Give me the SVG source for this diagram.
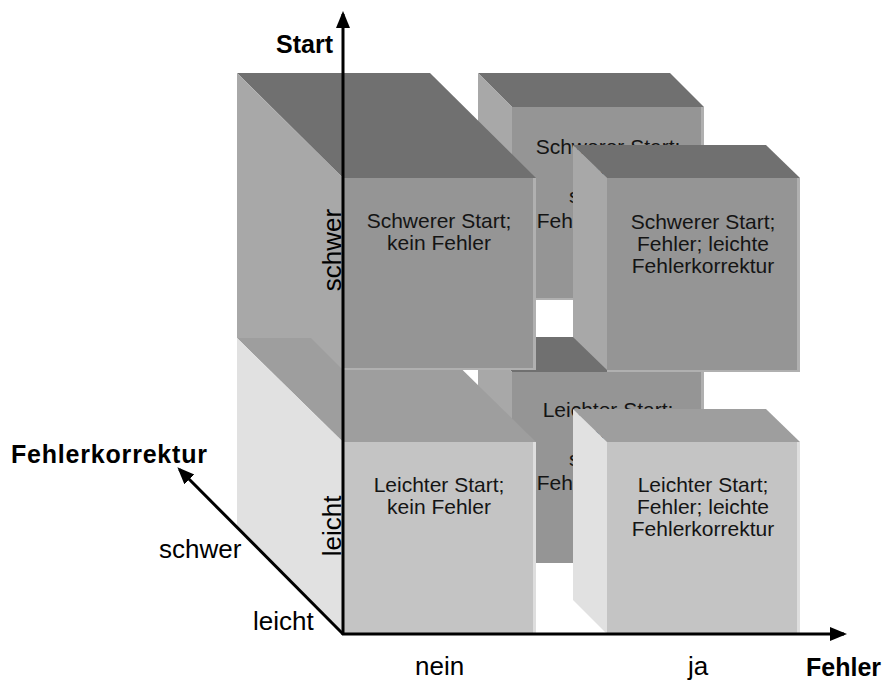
<svg xmlns="http://www.w3.org/2000/svg" width="884" height="682" viewBox="0 0 884 682">
  <style>
    .dark .top { fill: #707070; }
    .dark .side { fill: #a8a8a8; }
    .dark .front { fill: #959595; }
    .dark .edge { fill: #b0b0b0; }
    .light .top { fill: #9e9e9e; }
    .light .side { fill: #e1e1e1; }
    .light .front { fill: #c4c4c4; }
    .light .edge { fill: #dedede; }
    .cube text { font-family: "Liberation Sans", Arial, sans-serif; font-size: 21px; fill: #141414; text-anchor: middle; }
    .lbl { font-family: "Liberation Sans", Arial, sans-serif; font-size: 26px; fill: #000; }
    .axis-title { font-family: "Liberation Sans", Arial, sans-serif; font-size: 25px; font-weight: bold; fill: #000; }
    .axis { stroke: #000; stroke-width: 3; fill: none; marker-end: url(#arrow); }
  </style>
  <defs>
    <marker id="arrow" markerUnits="userSpaceOnUse" markerWidth="18" markerHeight="16" refX="14" refY="7" orient="auto">
      <path d="M0,0 L17,7 L0,14 z" fill="#000"/>
    </marker>
  </defs>
  <rect width="884" height="682" fill="#fff"/>

  <!-- back row: Fehler = ja, schwere Fehlerkorrektur -->
  <g id="cube-schwer-ja-schwer" class="cube dark">
    <polygon class="top" points="478,73 670,73 704,107 512,107"/>
    <polygon class="side" points="478,73 512,107 512,300 478,266"/>
    <rect class="front" x="512" y="107" width="192" height="193"/>
    <rect class="edge" x="701" y="107" width="3" height="193"/>
    <rect class="edge" x="512" y="298" width="192" height="2"/>
    <text x="608" y="154">Schwerer Start;</text>
    <text x="608" y="179">Fehler;</text>
    <text x="608" y="203">schwere</text>
    <text x="608" y="228">Fehlerkorrektur</text>
  </g>

  <g id="cube-leicht-ja-schwer" class="cube dark">
    <polygon class="top" points="478,337 670,337 704,372 512,372"/>
    <polygon class="side" points="478,337 512,372 512,563 478,528"/>
    <rect class="front" x="512" y="372" width="192" height="191"/>
    <rect class="edge" x="701" y="372" width="3" height="191"/>
    <text x="608" y="417">Leichter Start;</text>
    <text x="608" y="442">Fehler;</text>
    <text x="608" y="466">schwere</text>
    <text x="608" y="490">Fehlerkorrektur</text>
  </g>

  <!-- front row: Fehler = nein -->
  <g id="cube-leicht-nein" class="cube light">
    <polygon class="top" points="237,338 430,338 536,442 343,442"/>
    <polygon class="side" points="237,338 343,442 343,634 237,528"/>
    <rect class="front" x="343" y="442" width="193" height="192"/>
    <rect class="edge" x="533" y="442" width="3" height="192"/>
    <text x="439" y="492">Leichter Start;</text>
    <text x="439" y="514">kein Fehler</text>
  </g>

  <g id="cube-schwer-nein" class="cube dark">
    <polygon class="top" points="237,73 430,73 536,178 343,178"/>
    <polygon class="side" points="237,73 343,178 343,370 311,338 237,338"/>
    <rect class="front" x="343" y="178" width="193" height="192"/>
    <rect class="edge" x="533" y="178" width="3" height="192"/>
    <rect class="edge" x="343" y="368" width="193" height="2"/>
    <text x="439" y="228">Schwerer Start;</text>
    <text x="439" y="250">kein Fehler</text>
  </g>

  <!-- front row: Fehler = ja, leichte Fehlerkorrektur -->
  <g id="cube-leicht-ja-leicht" class="cube light">
    <polygon class="top" points="573,409 766,409 800,442 607,442"/>
    <polygon class="side" points="573,409 607,442 607,634 573,600"/>
    <rect class="front" x="607" y="442" width="193" height="192"/>
    <rect class="edge" x="797" y="442" width="3" height="192"/>
    <text x="703" y="492">Leichter Start;</text>
    <text x="703" y="514">Fehler; leichte</text>
    <text x="703" y="536">Fehlerkorrektur</text>
  </g>

  <g id="cube-schwer-ja-leicht" class="cube dark">
    <polygon class="top" points="573,145 766,145 800,178 607,178"/>
    <polygon class="side" points="573,145 607,178 607,370 573,337"/>
    <rect class="front" x="607" y="178" width="193" height="192"/>
    <rect class="edge" x="797" y="178" width="3" height="194"/>
    <rect class="edge" x="607" y="370" width="193" height="2"/>
    <text x="703" y="229">Schwerer Start;</text>
    <text x="703" y="251">Fehler; leichte</text>
    <text x="703" y="273">Fehlerkorrektur</text>
  </g>

  <!-- axes -->
  <g id="axes">
    <line class="axis" x1="343" y1="635" x2="343" y2="14"/>
    <line class="axis" x1="342" y1="634" x2="844" y2="634"/>
    <line class="axis" x1="343" y1="634" x2="179.5" y2="469.5"/>
  </g>

  <!-- axis titles and value labels -->
  <g id="labels">
    <text class="axis-title" x="333" y="53" text-anchor="end">Start</text>
    <text class="axis-title" x="11" y="463" letter-spacing="0.8">Fehlerkorrektur</text>
    <text class="axis-title" x="806" y="676">Fehler</text>
    <text class="lbl" transform="translate(341,250) rotate(-90)" text-anchor="middle">schwer</text>
    <text class="lbl" transform="translate(341,526) rotate(-90)" text-anchor="middle">leicht</text>
    <text class="lbl" x="159" y="558">schwer</text>
    <text class="lbl" x="253" y="630">leicht</text>
    <text class="lbl" x="415" y="675">nein</text>
    <text class="lbl" x="688" y="675">ja</text>
  </g>
</svg>
